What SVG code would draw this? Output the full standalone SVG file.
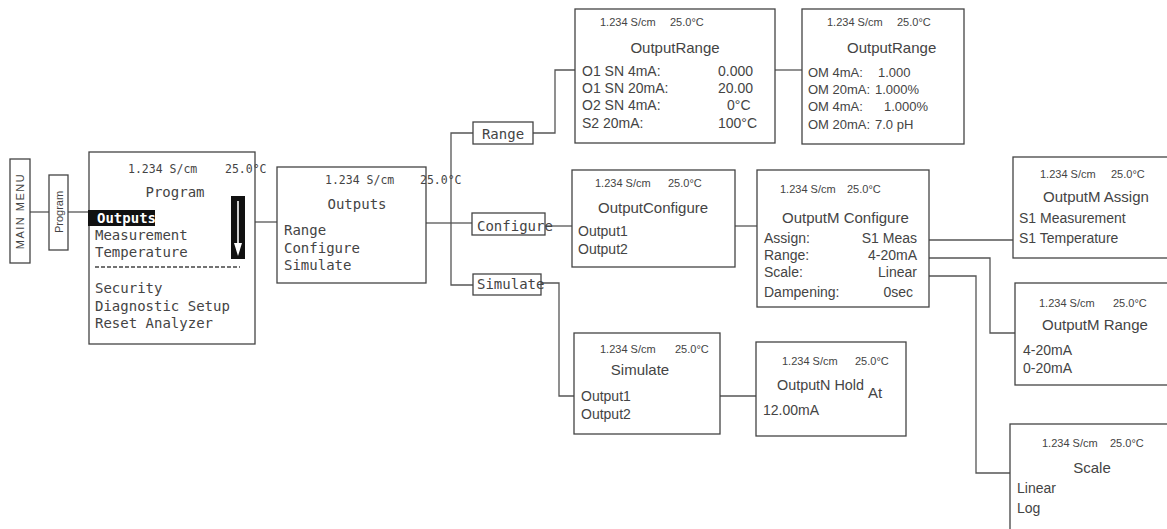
<svg xmlns="http://www.w3.org/2000/svg" width="1167" height="529" viewBox="0 0 1167 529">
<style>
rect.b{fill:#fff;stroke:#444;stroke-width:1.3}
.c path{fill:none;stroke:#555;stroke-width:1.3}
text{fill:#444}
.m{font-family:"DejaVu Sans Mono",monospace;font-size:14px}
.mh{font-family:"DejaVu Sans Mono",monospace;font-size:11.5px}
.s{font-family:"Liberation Sans",Arial,sans-serif;font-size:14px}
.s13{font-family:"Liberation Sans",Arial,sans-serif;font-size:13px}
.sh{font-family:"Liberation Sans",Arial,sans-serif;font-size:11px}
.t{font-family:"Liberation Sans",Arial,sans-serif;font-size:15px}
</style>
<rect width="1167" height="529" fill="#fff"/>
<g class="c">
<path d="M30 212H49"/>
<path d="M68 212H89"/>
<path d="M255 222H277"/>
<path d="M426 223H451"/>
<path d="M473 133H451V285H473"/>
<path d="M451 223H472"/>
<path d="M533 133H555V70H575"/>
<path d="M775 70H802"/>
<path d="M545 226H572"/>
<path d="M735 226H757"/>
<path d="M541 283H559V396H574"/>
<path d="M720 396H756"/>
<path d="M920 240H1013"/>
<path d="M920 258H990V333H1015"/>
<path d="M918 276H976V473H1010"/>
</g>
<g id="main-menu">
<rect class="b" x="10" y="159" width="20" height="104"/>
<text class="sh" transform="translate(24 211) rotate(-90)" text-anchor="middle" font-size="12" letter-spacing="1.5">MAIN MENU</text>
</g>
<g id="program-tab">
<rect class="b" x="49" y="175" width="19" height="75"/>
<text class="sh" transform="translate(63 212) rotate(-90)" text-anchor="middle" font-size="13">Program</text>
</g>
<g id="program-screen">
<rect class="b" x="89" y="152" width="166" height="192"/>
<text class="mh" x="128" y="173">1.234 S/cm</text>
<text class="mh" x="225" y="173">25.0°C</text>
<text class="m" x="175" y="197" text-anchor="middle">Program</text>
<rect x="88" y="210" width="67" height="16" fill="#111"/>
<text class="m" x="97" y="223" font-weight="bold" style="fill:#fff">Outputs</text>
<text class="m" x="95" y="240">Measurement</text>
<text class="m" x="95" y="257">Temperature</text>
<path d="M95 267H240" stroke="#444" stroke-width="1.5" stroke-dasharray="4 2"/>
<text class="m" x="95" y="293">Security</text>
<text class="m" x="95" y="311">Diagnostic Setup</text>
<text class="m" x="95" y="328">Reset Analyzer</text>
<rect x="231" y="196" width="14" height="63" fill="#111"/>
<path d="M238 201V246" stroke="#fff" stroke-width="1.6"/>
<path d="M234 243H242L238 256Z" fill="#fff"/>
</g>
<g id="outputs-screen">
<rect class="b" x="277" y="167" width="149" height="116"/>
<text class="mh" x="325" y="184">1.234 S/cm</text>
<text class="mh" x="420" y="184">25.0°C</text>
<text class="m" x="357" y="209" text-anchor="middle">Outputs</text>
<text class="m" x="284" y="235">Range</text>
<text class="m" x="284" y="253">Configure</text>
<text class="m" x="284" y="270">Simulate</text>
</g>
<g id="range-tab">
<rect class="b" x="473" y="122" width="60" height="22"/>
<text class="m" x="503" y="139" text-anchor="middle">Range</text>
</g>
<g id="configure-tab">
<rect class="b" x="472" y="213" width="73" height="22"/>
<text class="m" x="477" y="231">Configure</text>
</g>
<g id="simulate-tab">
<rect class="b" x="473" y="274" width="68" height="21"/>
<text class="m" x="477" y="289">Simulate</text>
</g>
<g id="output-range-1">
<rect class="b" x="575" y="9" width="200" height="134"/>
<text class="sh" x="600" y="26">1.234 S/cm</text>
<text class="sh" x="670" y="26">25.0°C</text>
<text class="t" x="675" y="53" text-anchor="middle">OutputRange</text>
<text class="s" x="582" y="76">O1 SN 4mA:</text>
<text class="s" x="718" y="76">0.000</text>
<text class="s" x="582" y="93">O1 SN 20mA:</text>
<text class="s" x="718" y="93">20.00</text>
<text class="s" x="582" y="110">O2 SN 4mA:</text>
<text class="s" x="727" y="110">0°C</text>
<text class="s" x="582" y="128">S2 20mA:</text>
<text class="s" x="718" y="128">100°C</text>
</g>
<g id="output-range-2">
<rect class="b" x="802" y="9" width="162" height="135"/>
<text class="sh" x="827" y="26">1.234 S/cm</text>
<text class="sh" x="897" y="26">25.0°C</text>
<text class="t" x="847" y="53">OutputRange</text>
<text class="s13" x="808" y="77">OM 4mA:</text>
<text class="s13" x="878" y="77">1.000</text>
<text class="s13" x="808" y="94">OM 20mA:</text>
<text class="s13" x="875" y="94">1.000%</text>
<text class="s13" x="808" y="111">OM 4mA:</text>
<text class="s13" x="884" y="111">1.000%</text>
<text class="s13" x="808" y="129">OM 20mA:</text>
<text class="s13" x="875" y="129">7.0 pH</text>
</g>
<g id="output-configure">
<rect class="b" x="572" y="170" width="163" height="97"/>
<text class="sh" x="595" y="187">1.234 S/cm</text>
<text class="sh" x="668" y="187">25.0°C</text>
<text class="t" x="598" y="213">OutputConfigure</text>
<text class="s" x="578" y="236">Output1</text>
<text class="s" x="578" y="254">Output2</text>
</g>
<g id="outputm-configure">
<rect class="b" x="757" y="170" width="172" height="137"/>
<text class="sh" x="780" y="193">1.234 S/cm</text>
<text class="sh" x="847" y="193">25.0°C</text>
<text class="t" x="782" y="223">OutputM Configure</text>
<text class="s" x="764" y="243">Assign:</text>
<text class="s" x="917" y="243" text-anchor="end">S1 Meas</text>
<text class="s" x="764" y="260">Range:</text>
<text class="s" x="917" y="260" text-anchor="end">4-20mA</text>
<text class="s" x="764" y="277">Scale:</text>
<text class="s" x="917" y="277" text-anchor="end">Linear</text>
<text class="s" x="764" y="297">Dampening:</text>
<text class="s" x="913" y="297" text-anchor="end">0sec</text>
</g>
<g id="outputm-assign">
<rect class="b" x="1013" y="157" width="170" height="101"/>
<text class="sh" x="1040" y="178">1.234 S/cm</text>
<text class="sh" x="1111" y="178">25.0°C</text>
<text class="t" x="1043" y="202">OutputM Assign</text>
<text class="s" x="1019" y="223">S1 Measurement</text>
<text class="s" x="1019" y="243">S1 Temperature</text>
</g>
<g id="outputm-range">
<rect class="b" x="1015" y="283" width="170" height="102"/>
<text class="sh" x="1039" y="307">1.234 S/cm</text>
<text class="sh" x="1113" y="307">25.0°C</text>
<text class="t" x="1042" y="330">OutputM Range</text>
<text class="s" x="1023" y="355">4-20mA</text>
<text class="s" x="1023" y="373">0-20mA</text>
</g>
<g id="scale">
<rect class="b" x="1010" y="424" width="170" height="120"/>
<text class="sh" x="1042" y="447">1.234 S/cm</text>
<text class="sh" x="1110" y="447">25.0°C</text>
<text class="t" x="1092" y="473" text-anchor="middle">Scale</text>
<text class="s" x="1017" y="493">Linear</text>
<text class="s" x="1017" y="513">Log</text>
</g>
<g id="simulate-screen">
<rect class="b" x="574" y="333" width="146" height="101"/>
<text class="sh" x="600" y="353">1.234 S/cm</text>
<text class="sh" x="675" y="353">25.0°C</text>
<text class="t" x="640" y="375" text-anchor="middle">Simulate</text>
<text class="s" x="581" y="401">Output1</text>
<text class="s" x="581" y="419">Output2</text>
</g>
<g id="outputn-hold">
<rect class="b" x="756" y="342" width="150" height="94"/>
<text class="sh" x="782" y="365">1.234 S/cm</text>
<text class="sh" x="855" y="365">25.0°C</text>
<text class="t" x="777" y="390" textLength="87" lengthAdjust="spacingAndGlyphs">OutputN Hold</text>
<text class="t" x="868" y="398">At</text>
<text class="s" x="763" y="415">12.00mA</text>
</g>
</svg>
